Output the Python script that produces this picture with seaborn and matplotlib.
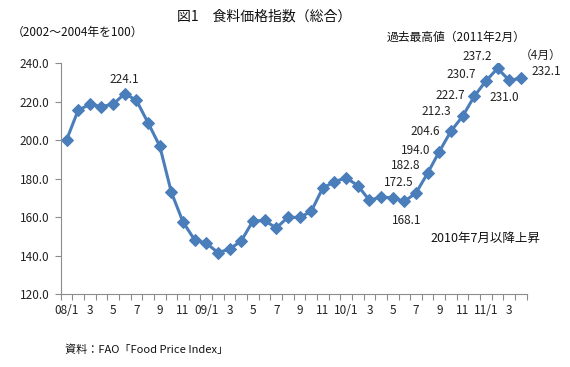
""" FAO food price index chart (Fig. 1), monthly 2008/1 - 2011/4.
"""
import numpy as np
import pandas as pd
import seaborn as sns
from matplotlib import pyplot as plt
from matplotlib.ticker import FixedLocator, NullFormatter

# monthly index values, 2002-2004 = 100
months = ["08/%d" % m for m in range(1, 13)] + ["09/%d" % m for m in range(1, 13)] \
    + ["10/%d" % m for m in range(1, 13)] + ["11/%d" % m for m in range(1, 5)]
index_vals = [200.0, 215.5, 218.5, 217.4, 218.6, 224.1, 220.6, 208.9, 196.9, 172.8,
              157.4, 148.1, 146.4, 141.5, 143.3, 147.6, 157.9, 158.2, 154.3, 159.8,
              159.8, 162.9, 175.1, 178.3, 180.4, 176.3, 168.7, 170.4, 169.9, 168.1,
              172.5, 182.8, 194.0, 204.6, 212.3, 222.7, 230.7, 237.2, 231.0, 232.1]
tick_labels = ["08/1", "3", "5", "7", "9", "11", "09/1", "3", "5", "7", "9", "11",
               "10/1", "3", "5", "7", "9", "11", "11/1", "3"]
yticks = [120, 140, 160, 180, 200, 220, 240]
labelled = ["08/6", "10/6", "10/7", "10/8", "10/9", "10/10", "10/11", "10/12",
            "11/1", "11/2", "11/3", "11/4"]

df = pd.DataFrame({"month": months, "value": index_vals})
df["pos"] = np.arange(len(df))

sns.set_theme(style="white")
plt.rcParams["font.family"] = ["Noto Sans CJK JP", "DejaVu Sans"]

BLUE = "#4a7ebb"
AXC = "#8c8c8c"

fig = plt.figure(figsize=(5.7, 3.67), dpi=100)
ax = fig.add_axes([0.1065, 0.1989, 0.8175, 0.6294])

sns.lineplot(data=df, x="pos", y="value", ax=ax, color=BLUE, lw=2.2,
             marker="D", markersize=6, markeredgecolor=BLUE, markerfacecolor=BLUE)

ax.set_xlim(-0.5, len(df) - 0.5)
ax.set_ylim(120, 240)
ax.set_yticks(yticks)
ax.set_yticklabels(["%.1f" % y for y in yticks])
ax.set_xticks(np.arange(0, len(df), 2))
ax.set_xticklabels(tick_labels)
ax.xaxis.set_minor_locator(FixedLocator(np.arange(-0.5, len(df), 1)))
ax.xaxis.set_minor_formatter(NullFormatter())
ax.tick_params(axis="x", which="major", length=0, pad=7, labelsize=8.5, colors="#222222")
ax.tick_params(axis="x", which="minor", length=4, width=0.8, color=AXC, bottom=True)
ax.tick_params(axis="y", length=4, width=0.8, color=AXC, pad=4, labelsize=8.5,
               labelcolor="#222222", left=True)
ax.set_xlabel("")
ax.set_ylabel("")
for s in ["top", "right"]:
    ax.spines[s].set_visible(False)
for s in ["left", "bottom"]:
    ax.spines[s].set_color(AXC)
    ax.spines[s].set_linewidth(0.8)

# data labels, offsets in pixels (dx, dy)
offsets = [(0, 14), (2, -19), (-17, 10), (-22, 8), (-24, 1), (-26, 0), (-26, 5),
           (-24, 1), (-25, 6), (-20, 12), (-5, -17), (25, 6.5)]
for m, (dx, dy) in zip(labelled, offsets):
    row = df[df["month"] == m].iloc[0]
    ax.annotate("%.1f" % row["value"], (row["pos"], row["value"]),
                xytext=(dx * 0.72, dy * 0.72), textcoords="offset points",
                ha="center", va="center", fontsize=8.5, color="#222222")

fig.text(264 / 570, 1 - 17 / 367, "図1　食料価格指数（総合）", ha="center", va="center",
         fontsize=10, color="#111111")
fig.text(12 / 570, 1 - 32 / 367, "（2002～2004年を100）", ha="left", va="center",
         fontsize=8.5, color="#111111")
fig.text(387 / 570, 1 - 37 / 367, "過去最高値（2011年2月）", ha="left", va="center",
         fontsize=8.5, color="#111111")
fig.text(541 / 570, 1 - 55 / 367, "（4月）", ha="center", va="center",
         fontsize=8.5, color="#222222")
fig.text(430 / 570, 1 - 238 / 367, "2010年7月以降上昇", ha="left", va="center",
         fontsize=9, color="#111111")
fig.text(65 / 570, 1 - 350 / 367, "資料：FAO「Food Price Index」", ha="left", va="center",
         fontsize=8, color="#111111")

fig.savefig("out.png", dpi=100)
